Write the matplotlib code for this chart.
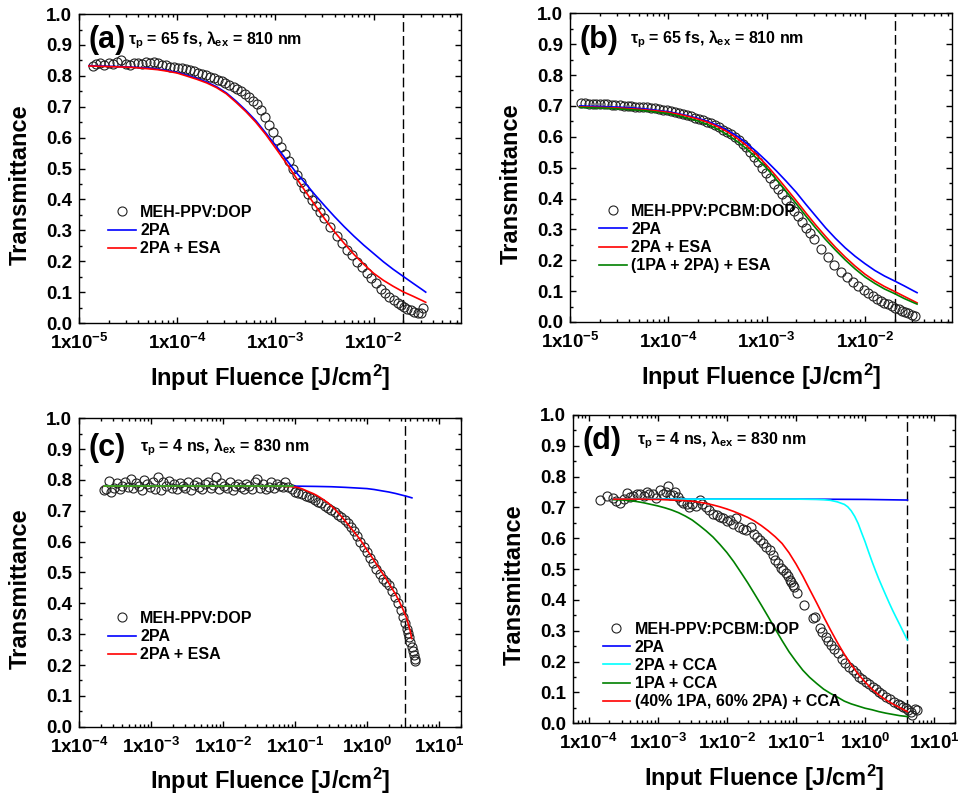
import matplotlib
matplotlib.use('Agg')
import matplotlib.pyplot as plt
from matplotlib.ticker import FuncFormatter, LogLocator, MultipleLocator
import numpy as np

plt.rcParams['font.family'] = ['Liberation Sans', 'DejaVu Sans']
plt.rcParams['font.weight'] = 'bold'
plt.rcParams['axes.labelweight'] = 'bold'
plt.rcParams['mathtext.fontset'] = 'custom'
plt.rcParams['mathtext.rm'] = 'Liberation Sans:bold'
plt.rcParams['mathtext.bf'] = 'Liberation Sans:bold'
plt.rcParams['mathtext.it'] = 'Liberation Sans'
plt.rcParams['mathtext.default'] = 'rm'

# ---------------- panel (a): MEH-PPV:DOP, 65 fs ----------------
a_x = [1.4e-5, 1.5e-5, 1.65e-5, 1.8e-5, 2.0e-5, 2.2e-5, 2.45e-5, 2.7e-5, 3.0e-5, 3.3e-5,
       3.6e-5, 4.0e-5, 4.4e-5, 4.8e-5, 5.3e-5, 5.8e-5, 6.4e-5, 7.0e-5, 7.7e-5, 8.5e-5,
       9.3e-5, 1.02e-4, 1.12e-4, 1.23e-4, 1.35e-4, 1.48e-4, 1.62e-4, 1.78e-4, 1.95e-4, 2.15e-4,
       2.35e-4, 2.6e-4, 2.85e-4, 3.1e-4, 3.4e-4, 3.75e-4, 4.1e-4, 4.5e-4, 4.95e-4, 5.4e-4,
       5.95e-4, 6.5e-4, 7.15e-4, 7.85e-4, 8.6e-4, 9.4e-4, 1.03e-3, 1.13e-3, 1.24e-3, 1.36e-3,
       1.5e-3, 1.64e-3, 1.8e-3, 1.97e-3, 2.16e-3, 2.37e-3, 2.6e-3, 2.85e-3, 3.1e-3, 3.6e-3,
       4.2e-3, 4.8e-3, 5.4e-3, 6.0e-3, 6.8e-3, 7.6e-3, 8.5e-3, 9.5e-3, 1.06e-2, 1.18e-2,
       1.3e-2, 1.45e-2, 1.6e-2, 1.75e-2, 1.9e-2, 2.05e-2, 2.2e-2, 2.4e-2, 2.6e-2, 2.8e-2,
       3.0e-2, 3.2e-2]
a_y = [0.832, 0.838, 0.840, 0.836, 0.842, 0.838, 0.846, 0.852, 0.838, 0.836,
       0.840, 0.843, 0.838, 0.844, 0.842, 0.845, 0.840, 0.836, 0.834, 0.830,
       0.828, 0.826, 0.824, 0.822, 0.818, 0.815, 0.810, 0.806, 0.803, 0.797,
       0.793, 0.787, 0.782, 0.778, 0.771, 0.764, 0.757, 0.751, 0.740, 0.731,
       0.719, 0.709, 0.690, 0.667, 0.642, 0.617, 0.593, 0.570, 0.547, 0.524,
       0.500, 0.478, 0.457, 0.437, 0.417, 0.397, 0.378, 0.358, 0.340, 0.310,
       0.282, 0.258, 0.237, 0.219, 0.199, 0.181, 0.163, 0.145, 0.128, 0.111,
       0.098, 0.085, 0.074, 0.065, 0.058, 0.052, 0.047, 0.041, 0.036, 0.033,
       0.033, 0.048]
a_fit_x = [1.26e-5, 1.58e-5, 2.0e-5, 2.51e-5, 3.16e-5, 3.98e-5, 5.01e-5, 6.31e-5, 7.94e-5, 1.0e-4,
           1.26e-4, 1.58e-4, 2.0e-4, 2.51e-4, 3.16e-4, 3.98e-4, 5.01e-4, 6.31e-4, 7.94e-4, 1.0e-3,
           1.26e-3, 1.58e-3, 2.0e-3, 2.51e-3, 3.16e-3, 3.98e-3, 5.01e-3, 6.31e-3, 7.94e-3, 1.0e-2,
           1.26e-2, 1.58e-2, 2.0e-2, 2.51e-2, 3.16e-2, 3.39e-2]
a_2pa = [0.833, 0.832, 0.831, 0.830, 0.829, 0.827, 0.825, 0.822, 0.817, 0.811,
         0.802, 0.792, 0.780, 0.765, 0.745, 0.718, 0.688, 0.655, 0.616, 0.575,
         0.533, 0.492, 0.454, 0.416, 0.380, 0.345, 0.312, 0.281, 0.252, 0.225,
         0.198, 0.174, 0.151, 0.129, 0.107, 0.100]
a_esa = [0.832, 0.831, 0.830, 0.829, 0.828, 0.826, 0.823, 0.820, 0.815, 0.809,
         0.799, 0.789, 0.777, 0.762, 0.742, 0.714, 0.684, 0.650, 0.611, 0.567,
         0.522, 0.476, 0.428, 0.383, 0.338, 0.296, 0.258, 0.222, 0.190, 0.161,
         0.138, 0.119, 0.101, 0.087, 0.072, 0.067]

# ---------------- panel (b): MEH-PPV:PCBM:DOP, 65 fs ----------------
b_x = [1.3e-5, 1.42e-5, 1.55e-5, 1.7e-5, 1.85e-5, 2.0e-5, 2.2e-5, 2.4e-5, 2.65e-5, 2.9e-5,
       3.2e-5, 3.5e-5, 3.85e-5, 4.2e-5, 4.6e-5, 5.05e-5, 5.55e-5, 6.1e-5, 6.7e-5, 7.35e-5,
       8.05e-5, 8.85e-5, 9.7e-5, 1.07e-4, 1.17e-4, 1.28e-4, 1.41e-4, 1.55e-4, 1.7e-4, 1.86e-4,
       2.04e-4, 2.24e-4, 2.46e-4, 2.7e-4, 2.96e-4, 3.25e-4, 3.57e-4, 3.92e-4, 4.3e-4, 4.72e-4,
       5.18e-4, 5.69e-4, 6.24e-4, 6.85e-4, 7.52e-4, 8.25e-4, 9.06e-4, 9.94e-4, 1.09e-3, 1.2e-3,
       1.31e-3, 1.44e-3, 1.58e-3, 1.74e-3, 1.91e-3, 2.09e-3, 2.3e-3, 2.52e-3, 2.77e-3, 3.04e-3,
       3.6e-3, 4.2e-3, 4.9e-3, 5.7e-3, 6.6e-3, 7.6e-3, 8.6e-3, 9.7e-3, 1.08e-2, 1.2e-2,
       1.32e-2, 1.45e-2, 1.58e-2, 1.72e-2, 1.87e-2, 2.03e-2, 2.2e-2, 2.38e-2, 2.57e-2, 2.77e-2,
       2.98e-2, 3.2e-2]
b_y = [0.710, 0.708, 0.707, 0.707, 0.706, 0.706, 0.705, 0.705, 0.704, 0.703,
       0.702, 0.701, 0.700, 0.699, 0.698, 0.697, 0.696, 0.695, 0.694, 0.692,
       0.690, 0.688, 0.686, 0.683, 0.680, 0.677, 0.674, 0.670, 0.666, 0.662,
       0.657, 0.653, 0.648, 0.643, 0.637, 0.630, 0.623, 0.616, 0.608, 0.599,
       0.589, 0.578, 0.566, 0.551, 0.535, 0.518, 0.500, 0.483, 0.466, 0.448,
       0.432, 0.414, 0.396, 0.377, 0.359, 0.342, 0.323, 0.305, 0.287, 0.268,
       0.237, 0.210, 0.185, 0.163, 0.145, 0.128, 0.115, 0.103, 0.093, 0.084,
       0.076, 0.069, 0.063, 0.057, 0.052, 0.046, 0.041, 0.036, 0.032, 0.028,
       0.024, 0.020]
b_fit_x = a_fit_x
b_2pa = [0.700, 0.699, 0.698, 0.697, 0.696, 0.694, 0.692, 0.689, 0.685, 0.681,
         0.675, 0.668, 0.660, 0.650, 0.637, 0.621, 0.602, 0.578, 0.551, 0.521,
         0.489, 0.456, 0.420, 0.381, 0.343, 0.305, 0.271, 0.240, 0.213, 0.189,
         0.167, 0.149, 0.133, 0.117, 0.100, 0.095]
b_esa = [0.697, 0.696, 0.695, 0.694, 0.693, 0.691, 0.689, 0.686, 0.683, 0.679,
         0.673, 0.666, 0.657, 0.647, 0.633, 0.616, 0.595, 0.570, 0.541, 0.508,
         0.471, 0.433, 0.393, 0.353, 0.314, 0.277, 0.242, 0.210, 0.181, 0.155,
         0.133, 0.115, 0.099, 0.083, 0.067, 0.062]
b_1pa2pa = [0.695, 0.694, 0.693, 0.692, 0.690, 0.688, 0.686, 0.683, 0.679, 0.675,
            0.668, 0.660, 0.651, 0.640, 0.625, 0.607, 0.585, 0.560, 0.530, 0.498,
            0.461, 0.423, 0.383, 0.343, 0.304, 0.267, 0.233, 0.201, 0.172, 0.146,
            0.125, 0.107, 0.092, 0.076, 0.062, 0.058]

# ---------------- panel (c): MEH-PPV:DOP, 4 ns ----------------
c_x = [2.2e-4, 2.4e-4, 2.6e-4, 2.8e-4, 3.1e-4, 3.4e-4, 3.7e-4, 4.0e-4, 4.4e-4, 4.8e-4,
       5.2e-4, 5.7e-4, 6.2e-4, 6.8e-4, 7.4e-4, 8.1e-4, 8.8e-4, 9.6e-4, 1.05e-3, 1.15e-3,
       1.25e-3, 1.36e-3, 1.48e-3, 1.62e-3, 1.77e-3, 1.93e-3, 2.1e-3, 2.3e-3, 2.5e-3, 2.75e-3,
       3.0e-3, 3.3e-3, 3.6e-3, 3.9e-3, 4.3e-3, 4.7e-3, 5.1e-3, 5.6e-3, 6.1e-3, 6.7e-3,
       7.3e-3, 8.0e-3, 8.7e-3, 9.5e-3, 1.04e-2, 1.14e-2, 1.24e-2, 1.36e-2, 1.48e-2, 1.62e-2,
       1.77e-2, 1.93e-2, 2.1e-2, 2.3e-2, 2.5e-2, 2.75e-2, 3.0e-2, 3.3e-2, 3.6e-2, 3.9e-2,
       4.3e-2, 4.7e-2, 5.1e-2, 5.6e-2, 6.1e-2, 6.7e-2, 7.3e-2, 8.0e-2,
       9.1e-2, 0.10, 0.11, 0.125, 0.14, 0.155, 0.17, 0.19, 0.21, 0.23,
       0.26, 0.29, 0.32, 0.36, 0.40, 0.44, 0.49, 0.54, 0.60, 0.66,
       0.73, 0.81, 0.90, 1.0, 1.1, 1.22, 1.35, 1.5, 1.65, 1.82,
       2.0, 2.2, 2.45, 2.7, 2.95, 3.2, 3.4, 3.55, 3.7, 3.85,
       4.0, 4.15, 4.3, 4.45, 4.6, 4.7]
c_y = [0.768, 0.772, 0.798, 0.762, 0.775, 0.790, 0.770, 0.782, 0.793, 0.778,
       0.804, 0.775, 0.790, 0.782, 0.769, 0.801, 0.788, 0.778, 0.795, 0.772,
       0.808, 0.766, 0.792, 0.780, 0.797, 0.775, 0.786, 0.770, 0.790, 0.780,
       0.774, 0.792, 0.768, 0.785, 0.795, 0.778, 0.770, 0.788, 0.792, 0.775,
       0.784, 0.810, 0.770, 0.790, 0.779, 0.775, 0.795, 0.768, 0.782, 0.786,
       0.777, 0.772, 0.788, 0.780, 0.770, 0.792, 0.803, 0.775, 0.786, 0.770,
       0.778, 0.795, 0.773, 0.788, 0.782, 0.776, 0.795, 0.778,
       0.772, 0.762, 0.757, 0.754, 0.748, 0.745, 0.740, 0.736, 0.730, 0.724,
       0.717, 0.710, 0.703, 0.696, 0.688, 0.679, 0.670, 0.660, 0.648, 0.634,
       0.618, 0.600, 0.582, 0.565, 0.548, 0.530, 0.512, 0.494, 0.480, 0.470,
       0.458, 0.440, 0.422, 0.400, 0.378, 0.355, 0.335, 0.318, 0.303, 0.290,
       0.275, 0.259, 0.245, 0.232, 0.220, 0.212]
c_2pa_x = [2.2e-4, 1.0e-2, 0.1, 0.2, 0.32, 0.5, 0.71, 1.0, 1.26, 1.58,
           2.0, 2.51, 3.16, 3.55, 4.2]
c_2pa = [0.781, 0.781, 0.780, 0.779, 0.778, 0.776, 0.774, 0.772, 0.769, 0.765,
         0.761, 0.756, 0.750, 0.747, 0.742]
c_esa_x = [2.2e-4, 1.0e-2, 6.31e-2, 7.94e-2, 0.1, 0.112, 0.126, 0.141, 0.158, 0.178,
           0.2, 0.224, 0.251, 0.282, 0.316, 0.355, 0.398, 0.447, 0.501, 0.562,
           0.631, 0.708, 0.794, 0.891, 1.0, 1.12, 1.26, 1.41, 1.58, 1.78,
           2.0, 2.24, 2.51, 2.82, 3.16, 3.55, 3.98, 4.17]
c_esa = [0.780, 0.780, 0.780, 0.779, 0.777, 0.775, 0.771, 0.766, 0.761, 0.756,
         0.750, 0.743, 0.735, 0.727, 0.717, 0.706, 0.693, 0.680, 0.666, 0.652,
         0.637, 0.623, 0.608, 0.591, 0.573, 0.556, 0.538, 0.521, 0.503, 0.485,
         0.466, 0.447, 0.428, 0.405, 0.380, 0.352, 0.310, 0.286]
c_low_x = [2.2e-4, 1.0e-2, 9.5e-2]
c_low = [0.780, 0.780, 0.780]

# ---------------- panel (d): MEH-PPV:PCBM:DOP, 4 ns ----------------
d_x = [1.48e-4, 1.86e-4, 2.24e-4, 2.5e-4, 2.8e-4, 3.2e-4, 3.55e-4, 4.0e-4, 4.4e-4, 5.0e-4,
       5.5e-4, 6.3e-4, 6.9e-4, 7.6e-4, 8.5e-4, 9.5e-4, 1.07e-3, 1.18e-3, 1.32e-3, 1.41e-3,
       1.5e-3, 1.66e-3, 1.78e-3, 1.95e-3, 2.14e-3, 2.34e-3, 2.63e-3, 2.88e-3, 3.16e-3, 3.55e-3,
       4.1e-3, 4.4e-3, 5.0e-3, 5.6e-3, 6.3e-3, 7.1e-3, 7.9e-3, 8.7e-3, 1.0e-2, 1.12e-2,
       1.23e-2, 1.35e-2, 1.51e-2, 1.74e-2, 1.9e-2, 2.24e-2, 2.5e-2, 2.75e-2, 3.0e-2, 3.3e-2,
       3.7e-2, 4.2e-2, 4.6e-2, 5.0e-2, 5.5e-2, 6.0e-2, 6.5e-2, 7.1e-2, 7.6e-2, 8.1e-2,
       8.5e-2, 9.1e-2, 9.5e-2, 0.105, 0.13, 0.175, 0.19, 0.22, 0.24, 0.27,
       0.295, 0.32, 0.355, 0.40, 0.46, 0.52, 0.59, 0.66, 0.74, 0.81,
       0.91, 1.02, 1.15, 1.29, 1.45, 1.58, 1.78, 2.0, 2.3, 2.63,
       2.95, 3.24, 3.55, 3.9, 4.15, 4.6, 4.8, 5.2, 5.6]
d_y = [0.724, 0.738, 0.730, 0.720, 0.714, 0.728, 0.748, 0.735, 0.737, 0.745,
       0.744, 0.738, 0.751, 0.745, 0.744, 0.730, 0.755, 0.745, 0.751, 0.770,
       0.740, 0.741, 0.750, 0.735, 0.720, 0.714, 0.712, 0.703, 0.710, 0.705,
       0.724, 0.712, 0.700, 0.692, 0.680, 0.676, 0.668, 0.665, 0.655, 0.660,
       0.646, 0.665, 0.638, 0.630, 0.627, 0.635, 0.615, 0.605, 0.595, 0.584,
       0.572, 0.562, 0.546, 0.530, 0.519, 0.505, 0.497, 0.486, 0.478, 0.466,
       0.459, 0.450, 0.443, 0.422, 0.384, 0.341, 0.345, 0.308, 0.295, 0.281,
       0.268, 0.254, 0.240, 0.227, 0.210, 0.195, 0.183, 0.173, 0.162, 0.151,
       0.143, 0.135, 0.127, 0.119, 0.111, 0.103, 0.095, 0.086, 0.078, 0.070,
       0.064, 0.059, 0.054, 0.049, 0.042, 0.038, 0.027, 0.045, 0.043]
d_2pa_x = [2.3e-4, 0.1, 1.0, 4.1]
d_2pa = [0.727, 0.727, 0.726, 0.724]
d_cca_x = [2.3e-4, 0.1, 0.2, 0.251, 0.316, 0.398, 0.501, 0.562, 0.631, 0.708,
           0.794, 0.891, 1.0, 1.12, 1.26, 1.41, 1.58, 1.78, 2.0, 2.24,
           2.51, 2.82, 3.16, 3.55, 4.1]
d_2pa_cca = [0.727, 0.727, 0.726, 0.725, 0.723, 0.718, 0.710, 0.702, 0.689, 0.671,
             0.648, 0.618, 0.589, 0.557, 0.525, 0.496, 0.468, 0.441, 0.415, 0.390,
             0.366, 0.343, 0.321, 0.298, 0.270]
d_fit_x = [2.3e-4, 2.51e-4, 3.16e-4, 3.98e-4, 5.01e-4, 6.31e-4, 7.94e-4, 1.0e-3, 1.26e-3, 1.58e-3,
           2.0e-3, 2.51e-3, 3.16e-3, 3.98e-3, 5.01e-3, 6.31e-3, 7.94e-3, 1.0e-2, 1.26e-2, 1.58e-2,
           2.0e-2, 2.51e-2, 3.16e-2, 3.98e-2, 5.01e-2, 6.31e-2, 7.94e-2, 0.1, 0.126, 0.158,
           0.2, 0.251, 0.316, 0.398, 0.501, 0.631, 0.794, 1.0, 1.26, 1.58,
           2.0, 2.51, 3.16, 4.1]
d_1pa_cca = [0.725, 0.725, 0.724, 0.722, 0.719, 0.715, 0.710, 0.705, 0.699, 0.692,
             0.683, 0.672, 0.659, 0.642, 0.624, 0.604, 0.580, 0.554, 0.524, 0.491,
             0.456, 0.420, 0.383, 0.345, 0.306, 0.268, 0.232, 0.201, 0.172, 0.149,
             0.129, 0.111, 0.097, 0.085, 0.072, 0.063, 0.056, 0.049, 0.044, 0.038,
             0.033, 0.029, 0.025, 0.022]
d_mix_cca = [0.727, 0.727, 0.727, 0.727, 0.727, 0.727, 0.726, 0.726, 0.725, 0.724,
             0.723, 0.722, 0.720, 0.717, 0.713, 0.708, 0.702, 0.695, 0.687, 0.678,
             0.668, 0.656, 0.641, 0.624, 0.605, 0.583, 0.553, 0.517, 0.477, 0.434,
             0.390, 0.346, 0.303, 0.262, 0.224, 0.190, 0.160, 0.134, 0.111, 0.092,
             0.076, 0.063, 0.051, 0.038]

# ---------------- drawing ----------------
fig = plt.figure(figsize=(9.59, 7.99), dpi=100)

def sci_label(v, pos):
    return r'1x10$^{%d}$' % int(round(np.log10(v)))

def style_axes(ax, xlim, dash_x):
    ax.set_xscale('log')
    ax.set_xlim(*xlim)
    ax.set_ylim(0, 1.0)
    ax.xaxis.set_major_locator(LogLocator(base=10, numticks=20))
    ax.xaxis.set_minor_locator(LogLocator(base=10, subs=np.arange(2, 10), numticks=20))
    ax.xaxis.set_major_formatter(FuncFormatter(sci_label))
    ax.yaxis.set_major_locator(MultipleLocator(0.1))
    ax.yaxis.set_minor_locator(MultipleLocator(0.05))
    ax.yaxis.set_major_formatter(FuncFormatter(lambda v, p: '%.1f' % v))
    ax.tick_params(which='both', direction='in', top=True, right=True, width=1.0)
    ax.tick_params(which='major', length=4.5, labelsize=13.5)
    ax.tick_params(axis='x', which='major', pad=7)
    ax.tick_params(axis='y', which='major', pad=5)
    ax.tick_params(which='minor', length=2.5)
    for s in ax.spines.values():
        s.set_linewidth(1.0)
    ax.axvline(dash_x, color='k', lw=1.0, dashes=(7, 3), zorder=1)
    ax.set_xlabel(r'Input Fluence [J/cm$^{2}$]', fontsize=17, labelpad=7)
    ax.set_ylabel('Transmittance', fontsize=17)
    ax.yaxis.set_label_coords(-0.124, 0.448)

def data_points(ax, x, y, label):
    return ax.plot(x, y, ls='none', marker='o', ms=6.5, mfc='none', mec='#222222',
                   mew=0.8, label=label, zorder=2)[0]

def panel_text(ax, tag, tx, note, y=0.915):
    ax.text(0.024, y, tag, transform=ax.transAxes, fontsize=22, va='center', ha='left')
    ax.text(tx, y, note, transform=ax.transAxes, fontsize=11.5, va='center', ha='left')

def add_legend(ax, handles, top):
    ax.legend(handles=handles, loc='upper left', bbox_to_anchor=(0.077, top),
              frameon=False, fontsize=11.5, handlelength=1.7, handletextpad=0.3,
              labelspacing=0.2, borderpad=0, borderaxespad=0)

# (a)
ax = fig.add_axes([0.0824, 0.5957, 0.398, 0.3867])
style_axes(ax, (1e-5, 7.7e-2), 2e-2)
h0 = data_points(ax, a_x, a_y, 'MEH-PPV:DOP')
h1, = ax.plot(a_fit_x, a_2pa, color='#0000ff', lw=1.2, label='2PA', zorder=3)
h2, = ax.plot(a_fit_x, a_esa, color='#ff0000', lw=1.2, label='2PA + ESA', zorder=3)
panel_text(ax, '(a)', 0.128, r'$\mathit{\tau}_{p}$ = 65 fs, $\mathit{\lambda}_{ex}$ = 810 nm')
add_legend(ax, [h0, h1, h2], 0.382)

# (b)
ax = fig.add_axes([0.5944, 0.597, 0.3978, 0.3864])
style_axes(ax, (1e-5, 7.6e-2), 2e-2)
h0 = data_points(ax, b_x, b_y, 'MEH-PPV:PCBM:DOP')
h1, = ax.plot(b_fit_x, b_2pa, color='#0000ff', lw=1.2, label='2PA', zorder=3)
h2, = ax.plot(b_fit_x, b_esa, color='#ff0000', lw=1.2, label='2PA + ESA', zorder=3)
h3, = ax.plot(b_fit_x, b_1pa2pa, color='#008000', lw=1.2, label='(1PA + 2PA) + ESA', zorder=3)
panel_text(ax, '(b)', 0.157, r'$\mathit{\tau}_{p}$ = 65 fs, $\mathit{\lambda}_{ex}$ = 810 nm')
add_legend(ax, [h0, h1, h2, h3], 0.383)

# (c)
ax = fig.add_axes([0.0824, 0.0905, 0.398, 0.386])
style_axes(ax, (1e-4, 2e1), 3.4)
h0 = data_points(ax, c_x, c_y, 'MEH-PPV:DOP')
h1, = ax.plot(c_2pa_x, c_2pa, color='#0000ff', lw=1.2, label='2PA', zorder=3)
h2, = ax.plot(c_esa_x, c_esa, color='#ff0000', lw=1.2, label='2PA + ESA', zorder=3)
ax.plot(c_low_x, c_low, color='#22bb22', lw=1.2, zorder=4)
panel_text(ax, '(c)', 0.16, r'$\mathit{\tau}_{p}$ = 4 ns, $\mathit{\lambda}_{ex}$ = 830 nm', y=0.905)
add_legend(ax, [h0, h1, h2], 0.375)

# (d)
ax = fig.add_axes([0.5978, 0.0947, 0.398, 0.386])
style_axes(ax, (6e-5, 2e1), 4.1)
h0 = data_points(ax, d_x, d_y, 'MEH-PPV:PCBM:DOP')
h1, = ax.plot(d_2pa_x, d_2pa, color='#0000ff', lw=1.2, label='2PA', zorder=3)
h2, = ax.plot(d_cca_x, d_2pa_cca, color='#00ffff', lw=1.2, label='2PA + CCA', zorder=3)
h3, = ax.plot(d_fit_x, d_1pa_cca, color='#008000', lw=1.2, label='1PA + CCA', zorder=3)
h4, = ax.plot(d_fit_x, d_mix_cca, color='#ff0000', lw=1.2, label='(40% 1PA, 60% 2PA) + CCA', zorder=3)
panel_text(ax, '(d)', 0.167, r'$\mathit{\tau}_{p}$ = 4 ns, $\mathit{\lambda}_{ex}$ = 830 nm', y=0.917)
add_legend(ax, [h0, h1, h2, h3, h4], 0.33)

fig.savefig('out.png', dpi=100)
